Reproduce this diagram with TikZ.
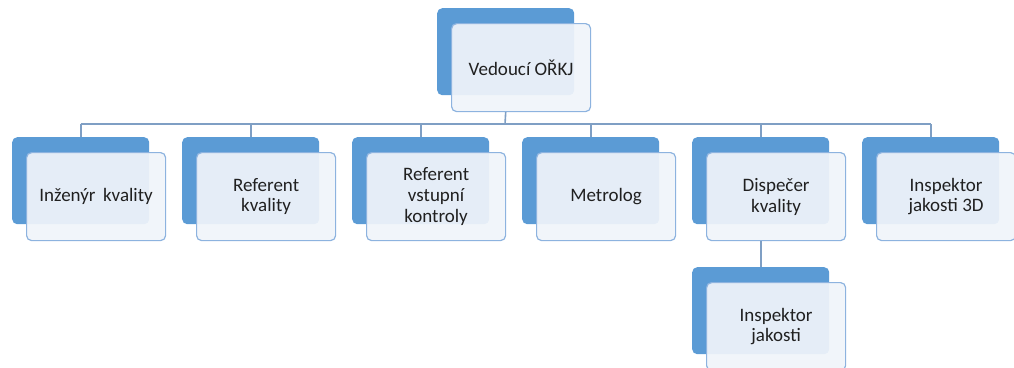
\documentclass[tikz,border=0pt]{standalone}
\usepackage{fontspec}
\setmainfont{Carlito}
\definecolor{backblue}{HTML}{5B9BD5}
\definecolor{frontfill}{HTML}{F0F4FA}
\definecolor{frontline}{HTML}{8DB3DF}
\definecolor{connline}{HTML}{7F9FC4}
\definecolor{txt}{HTML}{202020}
\tikzset{
  backbox/.style={fill=backblue, draw=none, rounded corners=5pt, minimum width=137pt, minimum height=87pt, inner sep=0pt, anchor=north west},
  frontbox/.style={fill=frontfill, fill opacity=0.93, text opacity=1, draw=frontline, line width=1.2pt, rounded corners=5pt, minimum width=139pt, minimum height=88pt, inner sep=0pt, anchor=north west, align=center, text=txt, font=\fontsize{19pt}{20.8pt}\selectfont},
  conn/.style={draw=connline, line width=1.6pt}
}
\newcommand\orgunit[4]{%
  \node[backbox] (#1b) at (#2,#3) {};
  \node[frontbox] (#1) at (#2+14,#3+15) {#4};
}
\begin{document}
\begin{tikzpicture}[x=1pt,y=-1pt]
\useasboundingbox (0,0) rectangle (1014,367);
\orgunit{top}{437}{8}{Vedoucí OŘKJ}
\orgunit{a}{12}{137}{Inženýr\ \,kvality}
\orgunit{b}{182}{137}{Referent\\kvality}
\orgunit{c}{352}{137}{Referent\\vstupní\\kontroly}
\orgunit{d}{522}{137}{Metrolog}
\orgunit{e}{692}{137}{Dispečer\\kvality}
\orgunit{f}{862}{137}{Inspektor\\jakosti 3D}
\orgunit{g}{692}{267}{Inspektor\\jakosti}
\coordinate (bar) at (505,124);
\draw[conn] (topb.south |- top.south) -- (bar);
\draw[conn] (ab.north |- bar) -- (fb.north |- bar);
\foreach \n in {a,b,c,d,e,f} {
  \draw[conn] (\n b.north |- bar) -- (\n b.north);
}
\draw[conn] (eb.south |- e.south) -- (gb.north);
\end{tikzpicture}
\end{document}
